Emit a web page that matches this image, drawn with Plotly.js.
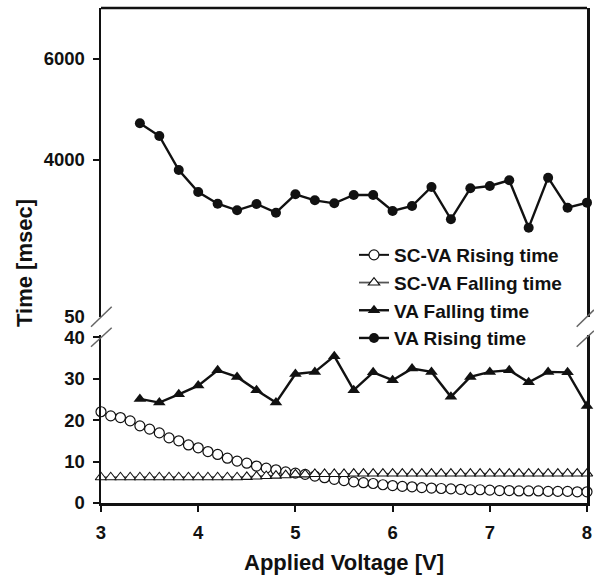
<!DOCTYPE html>
<html>
<head>
<meta charset="utf-8">
<script src="https://cdn.plot.ly/plotly-3.0.1.min.js"></script>
<style>html,body{margin:0;padding:0;background:#fff;}#chart{width:594px;height:582px;}</style>
</head>
<body>
<div id="chart"></div>
<script>
// ---- data ----
var voltageFine = [3.0,3.1,3.2,3.3,3.4,3.5,3.6,3.7,3.8,3.9,4.0,4.1,4.2,4.3,4.4,4.5,4.6,4.7,4.8,4.9,
  5.0,5.1,5.2,5.3,5.4,5.5,5.6,5.7,5.8,5.9,6.0,6.1,6.2,6.3,6.4,6.5,6.6,6.7,6.8,6.9,
  7.0,7.1,7.2,7.3,7.4,7.5,7.6,7.7,7.8,7.9,8.0];
var scvaRising = [22.0,21.0,20.6,19.8,18.6,17.8,16.9,15.7,15.0,14.0,13.3,12.4,11.7,10.8,10.1,9.6,8.9,8.4,8.0,7.5,
  7.2,6.9,6.5,6.1,5.7,5.4,5.1,4.9,4.7,4.4,4.2,4.0,3.9,3.7,3.6,3.5,3.4,3.3,3.2,3.2,
  3.1,3.0,3.0,2.9,2.9,2.9,2.8,2.8,2.8,2.7,2.7];
var scvaFalling = [6.2,6.2,6.2,6.2,6.2,6.2,6.2,6.2,6.2,6.2,6.2,6.2,6.2,6.2,6.2,6.3,6.4,6.5,6.6,6.7,
  6.9,6.9,7.0,7.0,7.0,7.0,7.1,7.1,7.1,7.1,7.1,7.1,7.1,7.1,7.1,7.1,7.1,7.1,7.1,7.1,
  7.1,7.1,7.1,7.1,7.1,7.1,7.1,7.1,7.1,7.1,7.1];
var voltageCoarse = [3.4,3.6,3.8,4.0,4.2,4.4,4.6,4.8,5.0,5.2,5.4,5.6,5.8,6.0,6.2,6.4,6.6,6.8,7.0,7.2,7.4,7.6,7.8,8.0];
var vaFalling = [25.1,24.2,26.2,28.3,32.0,30.4,27.2,24.2,31.1,31.6,35.4,27.2,31.5,29.6,32.4,31.6,25.6,30.4,31.6,32.0,29.1,31.6,31.5,23.4];
var vaRising = [4724,4474,3803,3368,3138,3007,3132,2960,3323,3204,3145,3309,3309,2994,3092,3467,2830,3441,3487,3599,2664,3651,3059,3158];
var xTicks = [3,4,5,6,7,8];
var lowerTicks = [0,10,20,30,40];
var middleTicks = [50];
var upperTicks = [4000,6000];
var seriesNames = ['SC-VA Rising time','SC-VA Falling time','VA Falling time','VA Rising time'];

var ink = '#111';
var fontFam = 'Liberation Sans, Arial, sans-serif';

var traces = [
  {x: voltageFine, y: scvaRising, name: seriesNames[0], yaxis: 'y', mode: 'lines+markers', cliponaxis: false,
   line: {color: ink, width: 2}, marker: {symbol: 'circle', size: 10, color: '#fff', line: {color: ink, width: 1.2}}},
  {x: voltageFine, y: scvaFalling, name: seriesNames[1], yaxis: 'y', mode: 'lines+markers', cliponaxis: false,
   line: {color: '#555', width: 1.8}, marker: {symbol: 'triangle-up', size: 10, color: '#fff', line: {color: ink, width: 1.1}}},
  {x: voltageCoarse, y: vaFalling, name: seriesNames[2], yaxis: 'y', mode: 'lines+markers', cliponaxis: false,
   line: {color: ink, width: 2.4}, marker: {symbol: 'triangle-up', size: 11, color: ink}},
  {x: voltageCoarse, y: vaRising, name: seriesNames[3], yaxis: 'y3', mode: 'lines+markers', cliponaxis: false,
   line: {color: ink, width: 2.4}, marker: {symbol: 'circle', size: 10, color: ink}}
];

var tickFont = {family: fontFam, size: 18.5, color: ink, weight: 'bold'};
var yCommon = {showline: true, linewidth: 2.5, linecolor: ink, mirror: true, showgrid: false, zeroline: false,
  ticks: 'outside', ticklen: 6, tickwidth: 2, tickcolor: ink, tickfont: tickFont, tickmode: 'array', ticklabelstandoff: 4, anchor: 'x'};

var plotRight = 587;
function px2py(py){ return (503 - py) / 495; }
function px2px(px){ return (px - 101) / (plotRight - 101); }

var slash = {type: 'line', xref: 'paper', yref: 'paper', line: {color: '#666', width: 1.5}};
function mk(o){ return Object.assign({}, slash, o); }

var layout = {
  width: 594, height: 582,
  margin: {l: 101, r: 594 - plotRight, t: 8, b: 79},
  paper_bgcolor: '#fff', plot_bgcolor: 'rgba(0,0,0,0)',
  showlegend: true,
  legend: {x: px2px(354), y: px2py(236), xanchor: 'left', yanchor: 'top', bgcolor: 'rgba(0,0,0,0)',
    font: {family: fontFam, size: 19, color: ink, weight: 'bold'}, traceorder: 'normal'},
  xaxis: {range: [3, 8], domain: [0, 1], showline: true, linewidth: 2.5, linecolor: ink, showgrid: false, zeroline: false,
    ticks: 'outside', ticklen: 6, tickwidth: 2, tickcolor: ink, tickmode: 'array', tickvals: xTicks,
    tickfont: tickFont, ticklabelstandoff: 5, ticklabeloverflow: 'allow', anchor: 'y'},
  yaxis: Object.assign({}, yCommon, {domain: [0, 0.3394], range: [0, 40.5], tickvals: lowerTicks}),
  yaxis2: Object.assign({}, yCommon, {domain: [0.3758, 0.5394], range: [50, 2500], tickvals: middleTicks, ticks: '', ticklabelstandoff: 10}),
  yaxis3: Object.assign({}, yCommon, {domain: [0.5394, 1], range: [2500, 7000], tickvals: upperTicks}),
  shapes: [
    {type: 'line', xref: 'paper', yref: 'paper', x0: 0, x1: 1, y0: 1, y1: 1, line: {color: ink, width: 2.5}},
    mk({x0: px2px(91), x1: px2px(111.7), y0: px2py(326.7), y1: px2py(306.7)}),
    mk({x0: px2px(91), x1: px2px(111.7), y0: px2py(346.7), y1: px2py(327.7)}),
    mk({x0: px2px(plotRight - 10.3), x1: px2px(plotRight + 7), y0: px2py(326.7), y1: px2py(309.9)}),
    mk({x0: px2px(plotRight - 10.3), x1: px2px(plotRight + 7), y0: px2py(346.7), y1: px2py(330.8)})
  ],
  annotations: [
    {text: 'Applied Voltage [V]', xref: 'paper', yref: 'paper', x: 0.5, y: px2py(562), xanchor: 'center', yanchor: 'middle',
     showarrow: false, font: {family: fontFam, size: 22, color: ink, weight: 'bold'}},
    {text: 'Time [msec]', xref: 'paper', yref: 'paper', x: px2px(24), y: px2py(263), xanchor: 'center', yanchor: 'middle',
     textangle: -90, showarrow: false, font: {family: fontFam, size: 22, color: ink, weight: 'bold'}}
  ]
};

// invisible point so the middle axis segment is drawn
traces.push({x: [3], y: [1000], yaxis: 'y2', mode: 'markers', marker: {opacity: 0}, showlegend: false, hoverinfo: 'skip'});

Plotly.newPlot('chart', traces, layout, {staticPlot: true, displayModeBar: false});
</script>
</body>
</html>
